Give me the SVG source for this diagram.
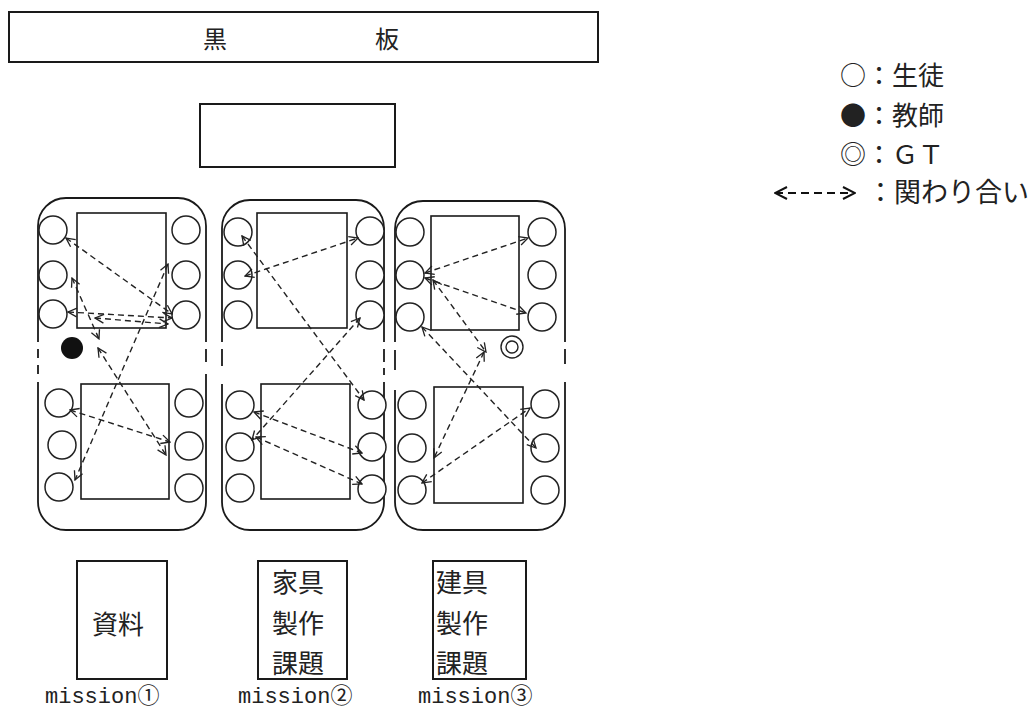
<svg xmlns="http://www.w3.org/2000/svg" width="1036" height="711" viewBox="0 0 1036 711">
<style>
  .bx{fill:#fff;stroke:#1a1a1a;stroke-width:2}
  .tb{fill:#fff;stroke:#1a1a1a;stroke-width:1.6}
  .st{fill:#fff;stroke:#222;stroke-width:1.5}
  .ol{fill:none;stroke:#1a1a1a;stroke-width:1.8}
  .ar{fill:none;stroke:#222;stroke-width:1.4;stroke-dasharray:6 4;marker-start:url(#ah);marker-end:url(#ah)}
  .jp{font-family:"Noto Sans CJK JP","Noto Sans CJK SC",sans-serif;fill:#222}
  .mo{font-family:"Liberation Mono","Noto Sans CJK JP",monospace;fill:#222;font-size:22px}
</style>
<defs>
  <marker id="ah" viewBox="0 0 10 10" refX="9" refY="5" markerWidth="11" markerHeight="11" markerUnits="userSpaceOnUse" orient="auto-start-reverse">
    <path d="M1,1 L9,5 L1,9" fill="none" stroke="#222" stroke-width="1.2" stroke-dasharray="none"/>
  </marker>
  <marker id="lh" viewBox="0 0 14 14" refX="13" refY="7" markerWidth="14" markerHeight="14" markerUnits="userSpaceOnUse" orient="auto-start-reverse">
    <path d="M1,1 L13,7 L1,13" fill="none" stroke="#111" stroke-width="2" stroke-dasharray="none"/>
  </marker>
</defs>
<rect width="1036" height="711" fill="#fff"/>

<g id="blackboard">
  <rect class="bx" x="9" y="12" width="589" height="50"/>
  <text class="jp" x="215" y="48" font-size="24" text-anchor="middle">黒</text>
  <text class="jp" x="387" y="48" font-size="24" text-anchor="middle">板</text>
</g>
<g id="desk">
  <rect class="bx" x="200" y="104" width="195" height="63"/>
</g>

<g id="legend">
  <text class="jp" x="840" y="85" font-size="26">○：生徒</text>
  <text class="jp" x="840" y="125" font-size="26">●：教師</text>
  <text class="jp" x="840" y="164" font-size="26">◎：ＧＴ</text>
  <line x1="775" y1="193" x2="855" y2="193" stroke="#111" stroke-width="2" stroke-dasharray="8 5" marker-start="url(#lh)" marker-end="url(#lh)"/>
  <text class="jp" x="867" y="202" font-size="27">：関わり合い</text>
</g>

<g id="group1">
  <path class="ol" d="M38,342 V226 A28,28 0 0 1 66,198 H178 A28,28 0 0 1 206,226 V342"/>
  <path class="ol" d="M38,382 V502 A28,28 0 0 0 66,530 H178 A28,28 0 0 0 206,502 V374"/>
  <path class="ol" d="M38,349 V358 M38,365 V374 M206,349 V362"/>
  <rect class="tb" x="77" y="213" width="89" height="115"/>
  <rect class="tb" x="81" y="384" width="88" height="115"/>
  <circle class="st" cx="53" cy="230" r="14"/><circle class="st" cx="53" cy="275" r="14"/><circle class="st" cx="53" cy="314" r="14"/>
  <circle class="st" cx="186" cy="230" r="14"/><circle class="st" cx="186" cy="275" r="14"/><circle class="st" cx="186" cy="315" r="14"/>
  <circle class="st" cx="59" cy="403" r="14"/><circle class="st" cx="62" cy="445" r="14"/><circle class="st" cx="59" cy="487" r="14"/>
  <circle class="st" cx="189" cy="403" r="14"/><circle class="st" cx="189" cy="446" r="14"/><circle class="st" cx="189" cy="488" r="14"/>
  <circle id="teacher" cx="72" cy="348" r="11" fill="#111"/>
</g>

<g id="group2">
  <path class="ol" d="M222,342 V228 A28,28 0 0 1 250,200 H356 A28,28 0 0 1 384,228 V342"/>
  <path class="ol" d="M222,384 V502 A28,28 0 0 0 250,530 H356 A28,28 0 0 0 384,502 V382"/>
  <path class="ol" d="M222,349 V366 M384,349 V362 M384,368 V375"/>
  <rect class="tb" x="257" y="213" width="90" height="115"/>
  <rect class="tb" x="261" y="384" width="89" height="115"/>
  <circle class="st" cx="238" cy="232" r="14"/><circle class="st" cx="238" cy="275" r="14"/><circle class="st" cx="238" cy="315" r="14"/>
  <circle class="st" cx="370" cy="231" r="14"/><circle class="st" cx="370" cy="275" r="14"/><circle class="st" cx="370" cy="315" r="14"/>
  <circle class="st" cx="240" cy="405" r="14"/><circle class="st" cx="240" cy="447" r="14"/><circle class="st" cx="240" cy="488" r="14"/>
  <circle class="st" cx="372" cy="405" r="14"/><circle class="st" cx="372" cy="447" r="14"/><circle class="st" cx="372" cy="489" r="14"/>
</g>

<g id="group3">
  <path class="ol" d="M395,342 V229 A28,28 0 0 1 423,201 H537 A28,28 0 0 1 565,229 V342"/>
  <path class="ol" d="M395,390 V502 A28,28 0 0 0 423,530 H537 A28,28 0 0 0 565,502 V382"/>
  <path class="ol" d="M395,350 V370 M565,349 V364"/>
  <rect class="tb" x="431" y="216" width="88" height="114"/>
  <rect class="tb" x="434" y="387" width="89" height="116"/>
  <circle class="st" cx="410" cy="232" r="14"/><circle class="st" cx="410" cy="275" r="14"/><circle class="st" cx="410" cy="317" r="14"/>
  <circle class="st" cx="542" cy="232" r="14"/><circle class="st" cx="542" cy="275" r="14"/><circle class="st" cx="542" cy="317" r="14"/>
  <circle class="st" cx="412" cy="405" r="14"/><circle class="st" cx="412" cy="448" r="14"/><circle class="st" cx="412" cy="490" r="14"/>
  <circle class="st" cx="545" cy="404" r="14"/><circle class="st" cx="545" cy="448" r="14"/><circle class="st" cx="545" cy="490" r="14"/>
  <g id="gt"><circle cx="512" cy="347" r="11" fill="#fff" stroke="#222" stroke-width="1.4"/><circle cx="512" cy="347" r="6" fill="none" stroke="#222" stroke-width="1.4"/></g>
</g>

<g id="connectors">
  <line class="ar" x1="66" y1="238" x2="172" y2="314"/>
  <line class="ar" x1="168" y1="264" x2="75" y2="480"/>
  <line class="ar" x1="68" y1="312" x2="172" y2="318"/>
  <line class="ar" x1="95" y1="318" x2="168" y2="324"/>
  <line class="ar" x1="72" y1="278" x2="99" y2="339"/>
  <line class="ar" x1="98" y1="348" x2="166" y2="455"/>
  <line class="ar" x1="70" y1="410" x2="170" y2="442"/>

  <line class="ar" x1="242" y1="236" x2="364" y2="400"/>
  <line class="ar" x1="360" y1="318" x2="252" y2="440"/>
  <line class="ar" x1="245" y1="276" x2="358" y2="238"/>
  <line class="ar" x1="254" y1="412" x2="362" y2="453"/>
  <line class="ar" x1="256" y1="437" x2="362" y2="484"/>

  <line class="ar" x1="425" y1="273" x2="528" y2="238"/>
  <line class="ar" x1="425" y1="278" x2="526" y2="313"/>
  <line class="ar" x1="422" y1="327" x2="536" y2="448"/>
  <line class="ar" x1="433" y1="280" x2="486" y2="352"/>
  <line class="ar" x1="484" y1="352" x2="434" y2="458"/>
  <line class="ar" x1="422" y1="483" x2="530" y2="408"/>
</g>

<g id="mission1">
  <rect class="bx" x="77" y="561" width="90" height="118"/>
  <text class="jp" x="118" y="634" font-size="26" text-anchor="middle">資料</text>
  <text class="mo" x="45" y="703">mission①</text>
</g>
<g id="mission2">
  <rect class="bx" x="258" y="561" width="89" height="118"/>
  <text class="jp" x="272" y="592" font-size="26">家具</text>
  <text class="jp" x="272" y="633" font-size="26">製作</text>
  <text class="jp" x="272" y="673" font-size="26">課題</text>
  <text class="mo" x="238" y="703">mission②</text>
</g>
<g id="mission3">
  <rect class="bx" x="433" y="561" width="93" height="118"/>
  <text class="jp" x="436" y="592" font-size="26">建具</text>
  <text class="jp" x="436" y="633" font-size="26">製作</text>
  <text class="jp" x="436" y="673" font-size="26">課題</text>
  <text class="mo" x="418" y="703">mission③</text>
</g>
</svg>
